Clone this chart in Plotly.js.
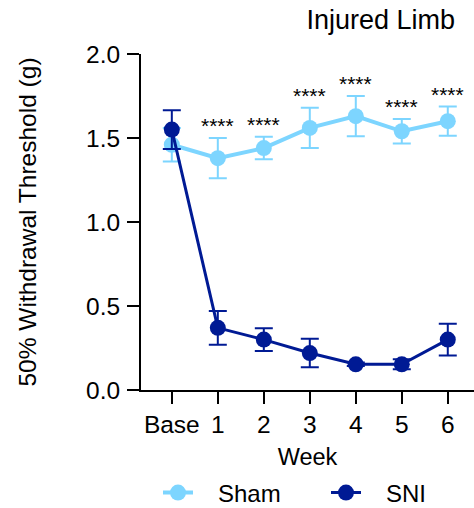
<!DOCTYPE html>
<html>
<head>
<meta charset="utf-8">
<script src="https://cdn.plot.ly/plotly-3.0.1.min.js"></script>
<style>html,body{margin:0;padding:0;background:#fff;}#chart{width:474px;height:508px;}</style>
</head>
<body>
<div id="chart"></div>
<script>
var weeks = ["Base", "1", "2", "3", "4", "5", "6"];
var shamMean = [1.46, 1.38, 1.44, 1.56, 1.63, 1.54, 1.60];
var shamErr  = [0.10, 0.12, 0.067, 0.12, 0.12, 0.073, 0.087];
var sniMean  = [1.55, 0.37, 0.30, 0.22, 0.153, 0.153, 0.30];
var sniErr   = [0.115, 0.10, 0.068, 0.085, 0.01, 0.03, 0.095];
var sigLabels = ["", "****", "****", "****", "****", "****", "****"];
var seriesNames = ["Sham", "SNI"];

var shamColor = "#7DD5FF";
var sniColor = "#001A94";
var font = "Liberation Sans, Arial, Helvetica, sans-serif";
var pad = "\u00a0\u00a0\u00a0";

var traces = [
  {
    x: weeks, y: shamMean, name: pad + seriesNames[0], type: "scatter", mode: "lines+markers",
    line: {color: shamColor, width: 4},
    marker: {color: shamColor, size: 16},
    error_y: {type: "data", array: shamErr, visible: true, color: shamColor, thickness: 2, width: 9},
    cliponaxis: false, legend: "legend"
  },
  {
    x: weeks, y: sniMean, name: pad + seriesNames[1], type: "scatter", mode: "lines+markers",
    line: {color: sniColor, width: 3},
    marker: {color: sniColor, size: 16},
    error_y: {type: "data", array: sniErr, visible: true, color: sniColor, thickness: 2, width: 9},
    cliponaxis: false, legend: "legend2"
  }
];

var annotations = [];
for (var i = 0; i < weeks.length; i++) {
  if (!sigLabels[i]) continue;
  annotations.push({
    x: weeks[i], y: shamMean[i] + shamErr[i], xref: "x", yref: "y",
    text: sigLabels[i], showarrow: false, yanchor: "bottom", yshift: -1,
    font: {family: font, size: 21, color: "#000"}
  });
}

function legendAt(xpx) {
  return {
    orientation: "h", xref: "container", yref: "container",
    x: xpx / 474, xanchor: "left", y: 1 - 493 / 508, yanchor: "middle",
    font: {family: font, size: 24, color: "#000"},
    bgcolor: "rgba(0,0,0,0)"
  };
}

var layout = {
  width: 474, height: 508,
  margin: {l: 141, r: 0, t: 54, b: 118},
  paper_bgcolor: "#fff", plot_bgcolor: "#fff",
  font: {family: font, color: "#000"},
  showlegend: true,
  title: {
    text: "Injured Limb", font: {family: font, size: 27, color: "#000"},
    xref: "container", yref: "container", x: 455/474, xanchor: "right",
    y: 1 - 20/508, yanchor: "middle"
  },
  xaxis: {
    type: "category", range: [-0.67, 6.57],
    showline: true, linecolor: "#000", linewidth: 2,
    ticks: "outside", ticklen: 12, tickwidth: 2, tickcolor: "#000",
    showgrid: false, zeroline: false,
    tickfont: {family: font, size: 24.5, color: "#000"},
    title: {text: "Week", font: {family: font, size: 23.5, color: "#000"}, standoff: 14},
    fixedrange: true
  },
  yaxis: {
    range: [0, 2], tickvals: [0, 0.5, 1, 1.5, 2], tickformat: ".1f",
    showline: true, linecolor: "#000", linewidth: 2,
    ticks: "outside", ticklen: 12, tickwidth: 2, tickcolor: "#000",
    ticklabelstandoff: 2,
    showgrid: false, zeroline: false,
    tickfont: {family: font, size: 24.5, color: "#000"},
    title: {text: "50% Withdrawal Threshold (g)", font: {family: font, size: 24.5, color: "#000"}, standoff: 42},
    fixedrange: true
  },
  legend: legendAt(158),
  legend2: legendAt(326),
  annotations: annotations
};

Plotly.newPlot("chart", traces, layout, {displayModeBar: false, staticPlot: true});
</script>
</body>
</html>
